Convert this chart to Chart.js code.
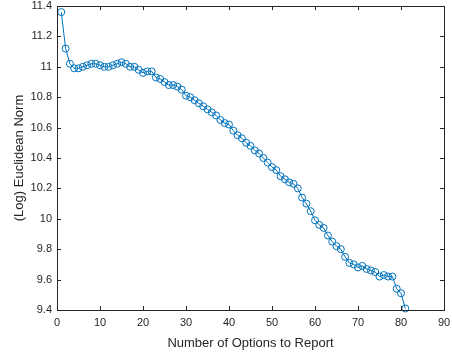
<!DOCTYPE html>
<html>
<head>
<meta charset="utf-8">
<script src="https://cdn.jsdelivr.net/npm/chart.js@4/dist/chart.umd.min.js"></script>
<style>
  html, body { margin: 0; padding: 0; background: #fff; }
  #wrap { width: 452px; height: 355px; }
</style>
</head>
<body>
<div id="wrap"><canvas id="normChart" width="452" height="355"></canvas></div>
<script>
// data
const options = [];
for (let i = 1; i <= 81; i++) options.push(i);
const logNorm = [
  11.36, 11.12, 11.02, 10.99, 10.99, 11.00, 11.01, 11.02, 11.02, 11.01,
  11.00, 11.00, 11.01, 11.02, 11.03, 11.02, 11.00, 11.00, 10.98, 10.96,
  10.97, 10.97, 10.93, 10.92, 10.90, 10.88, 10.88, 10.87, 10.85, 10.81,
  10.80, 10.78, 10.76, 10.74, 10.72, 10.70, 10.68, 10.65, 10.63, 10.62,
  10.58, 10.55, 10.53, 10.50, 10.48, 10.45, 10.43, 10.40, 10.37, 10.34,
  10.32, 10.28, 10.26, 10.24, 10.23, 10.20, 10.14, 10.10, 10.05, 9.99,
  9.96, 9.94, 9.89, 9.85, 9.82, 9.80, 9.75, 9.71, 9.70, 9.68,
  9.69, 9.67, 9.66, 9.65, 9.62, 9.63, 9.62, 9.62, 9.54, 9.51,
  9.41
];
const xTicks = [0, 10, 20, 30, 40, 50, 60, 70, 80, 90];
const yTicks = [9.4, 9.6, 9.8, 10, 10.2, 10.4, 10.6, 10.8, 11, 11.2, 11.4];

const axisColor = '#262626';
const fontFamily = '"Liberation Sans", Arial, sans-serif';

// box around the axes + inward ticks, matlab style
const boxPlugin = {
  id: 'boxTicks',
  afterDraw(chart) {
    const { ctx, chartArea: a, scales } = chart;
    ctx.save();
    ctx.strokeStyle = axisColor;
    ctx.lineWidth = 1;
    ctx.strokeRect(Math.round(a.left) + 0.5, Math.round(a.top) + 0.5,
      Math.round(a.right - a.left), Math.round(a.bottom - a.top));
    const len = 4;
    ctx.beginPath();
    xTicks.forEach(v => {
      const px = Math.round(scales.x.getPixelForValue(v)) + 0.5;
      ctx.moveTo(px, a.bottom); ctx.lineTo(px, a.bottom - len);
      ctx.moveTo(px, a.top); ctx.lineTo(px, a.top + len);
    });
    yTicks.forEach(v => {
      const py = Math.round(scales.y.getPixelForValue(v)) + 0.5;
      ctx.moveTo(a.left, py); ctx.lineTo(a.left + len, py);
      ctx.moveTo(a.right, py); ctx.lineTo(a.right - len, py);
    });
    ctx.stroke();
    ctx.restore();
  }
};

const ctx = document.getElementById('normChart').getContext('2d');
new Chart(ctx, {
  type: 'line',
  data: {
    labels: options,
    datasets: [{
      data: options.map((x, i) => ({ x: x, y: logNorm[i] })),
      borderColor: '#0072BD',
      borderWidth: 1,
      pointStyle: 'circle',
      pointRadius: 3.5,
      pointBorderWidth: 1,
      pointBackgroundColor: 'rgba(0,0,0,0)',
      pointBorderColor: '#0072BD',
      tension: 0,
      clip: false
    }]
  },
  options: {
    responsive: false,
    animation: false,
    layout: { padding: { top: 6, right: 8, left: 0, bottom: 0 } },
    plugins: { legend: { display: false }, tooltip: { enabled: false } },
    scales: {
      x: {
        type: 'linear',
        min: 0, max: 90,
        afterBuildTicks: s => { s.ticks = xTicks.map(v => ({ value: v })); },
        afterFit: s => { s.height = 45; s.paddingLeft = 0; s.paddingRight = 0; },
        grid: { display: false, drawTicks: false },
        border: { display: false },
        ticks: { color: axisColor, padding: 6, maxRotation: 0,
          font: { family: fontFamily, size: 11 } },
        title: { display: true, text: 'Number of Options to Report', color: axisColor,
          font: { family: fontFamily, size: 13 }, padding: { top: 0 } }
      },
      y: {
        type: 'linear',
        min: 9.4, max: 11.4,
        afterBuildTicks: s => { s.ticks = yTicks.map(v => ({ value: v })); },
        afterFit: s => { s.width = 57; s.paddingTop = 0; s.paddingBottom = 0; },
        grid: { display: false, drawTicks: false },
        border: { display: false },
        ticks: { color: axisColor, padding: 5,
          font: { family: fontFamily, size: 11 } ,
          callback: v => String(+v.toFixed(1)) },
        title: { display: true, text: '(Log) Euclidean Norm', color: axisColor,
          font: { family: fontFamily, size: 13 }, padding: { top: 12 } }
      }
    }
  },
  plugins: [boxPlugin]
});
</script>
</body>
</html>
